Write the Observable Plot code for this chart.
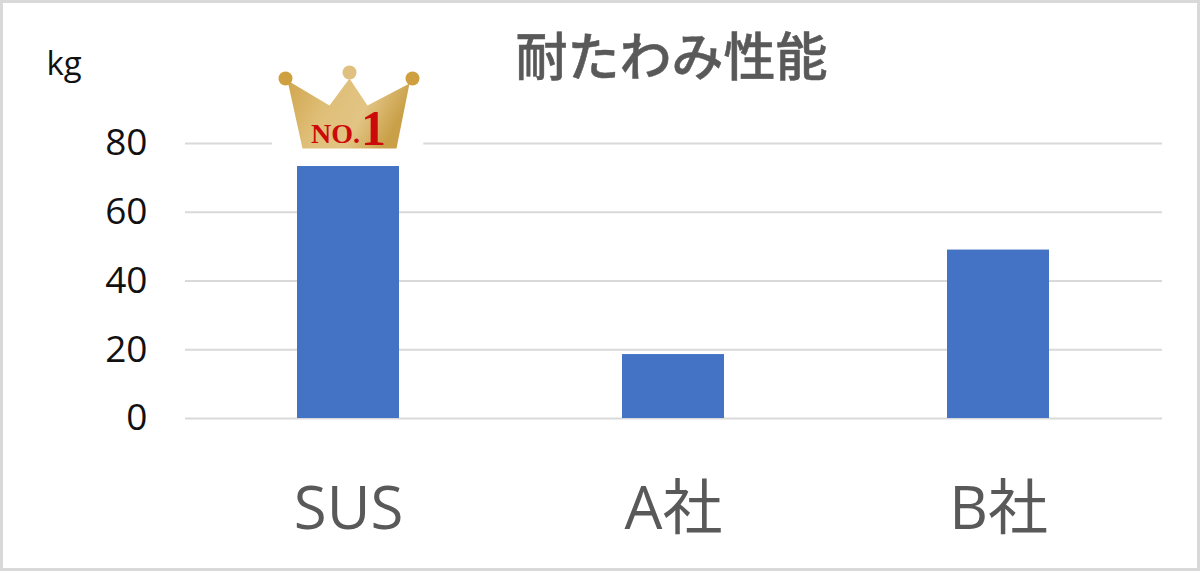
<!DOCTYPE html>
<html lang="ja">
<head>
<meta charset="utf-8">
<script src="https://cdn.jsdelivr.net/npm/d3@7"></script>
<script src="https://cdn.jsdelivr.net/npm/@observablehq/plot@0.6"></script>
<style>
html,body{margin:0;padding:0;background:#fff}
svg{display:block}
</style>
</head>
<body>
<div id="chart"></div>
<script>
const categories = ["SUS", "A社", "B社"];
const values = [73.3, 18.6, 49.0];
const yTicks = [0, 20, 40, 60, 80];
const titleText = "耐たわみ性能";
const unitText = "kg";
const winnerIndex = 0;
const rankPrefix = "NO.";
const rankNumber = "1";

const rows = categories.map((name, i) => ({name, value: values[i]}));
const winner = [rows[winnerIndex]];
const latin = "'Open Sans','Noto Sans CJK JP',sans-serif";
const cjk = "'Noto Sans CJK JP','Noto Sans',sans-serif";

const crownSvg = `<svg xmlns="http://www.w3.org/2000/svg" width="152" height="105" viewBox="0 0 152 105">
<defs>
<linearGradient id="g" x1="0" y1="0" x2="1" y2="0.3">
<stop offset="0" stop-color="#d0a54e"/><stop offset="0.4" stop-color="#dfbf78"/>
<stop offset="0.7" stop-color="#e2c484"/><stop offset="1" stop-color="#c9a048"/>
</linearGradient>
</defs>
<rect width="152" height="105" fill="#fff"/>
<path d="M16 20 L58 45 L78 18 L96 45 L138 23 L125 88 L31 88 Z" fill="url(#g)"/>
<circle cx="14" cy="18" r="7" fill="#cfa040"/>
<circle cx="78" cy="12" r="7" fill="#e0c080"/>
<circle cx="141" cy="18" r="7" fill="#cfa040"/>
</svg>`;
const crownSrc = "data:image/svg+xml," + encodeURIComponent(crownSvg);

const chart = Plot.plot({
  width: 1200,
  height: 571,
  marginLeft: 185,
  marginRight: 38,
  marginTop: 143,
  marginBottom: 153,
  style: {background: "#fff", outline: "3px solid #d9d9d9", outlineOffset: "-3px"},
  x: {domain: categories, paddingInner: 0.685, paddingOuter: 0.3425, align: 0.5, label: null},
  y: {domain: [0, 80], label: null},
  marks: [
    Plot.gridY(yTicks, {stroke: "#d9d9d9", strokeWidth: 2, strokeOpacity: 1}),
    Plot.barY(rows, {x: "name", y: "value", fill: "#4472c4"}),
    Plot.image(winner, {x: "name", y: "value", src: () => crownSrc, width: 152, height: 105, dx: -1, dy: -53.5}),
    Plot.text(winner, {x: "name", y: "value", text: () => rankPrefix, dx: -13, dy: -33, fontFamily: "'Liberation Serif',serif", fontWeight: "bold", fontSize: 28, fill: "#cc0a0a"}),
    Plot.text(winner, {x: "name", y: "value", text: () => rankNumber, dx: 25, dy: -38, fontFamily: "'Liberation Serif',serif", fontWeight: "bold", fontSize: 50, fill: "#cc0a0a"}),
    Plot.axisY(yTicks, {tickSize: 0, tickPadding: 38, fontSize: 37, fontFamily: latin, fill: "#111", label: null}),
    Plot.axisX({tickSize: 0, tickPadding: 68, fontSize: 60, fontFamily: latin, fill: "#595959", label: null}),
    Plot.text([titleText], {frameAnchor: "top-left", dx: 330, dy: -104, text: d => d, fontFamily: cjk, fontSize: 52, fontWeight: 500, stroke: "#595959", strokeWidth: 0.5, fill: "#595959", textAnchor: "start"}),
    Plot.text([unitText], {frameAnchor: "top-left", dx: -139, dy: -92, text: d => d, fontFamily: latin, fontSize: 33, fill: "#111", textAnchor: "start"})
  ]
});
document.getElementById("chart").append(chart);
</script>
</body>
</html>
